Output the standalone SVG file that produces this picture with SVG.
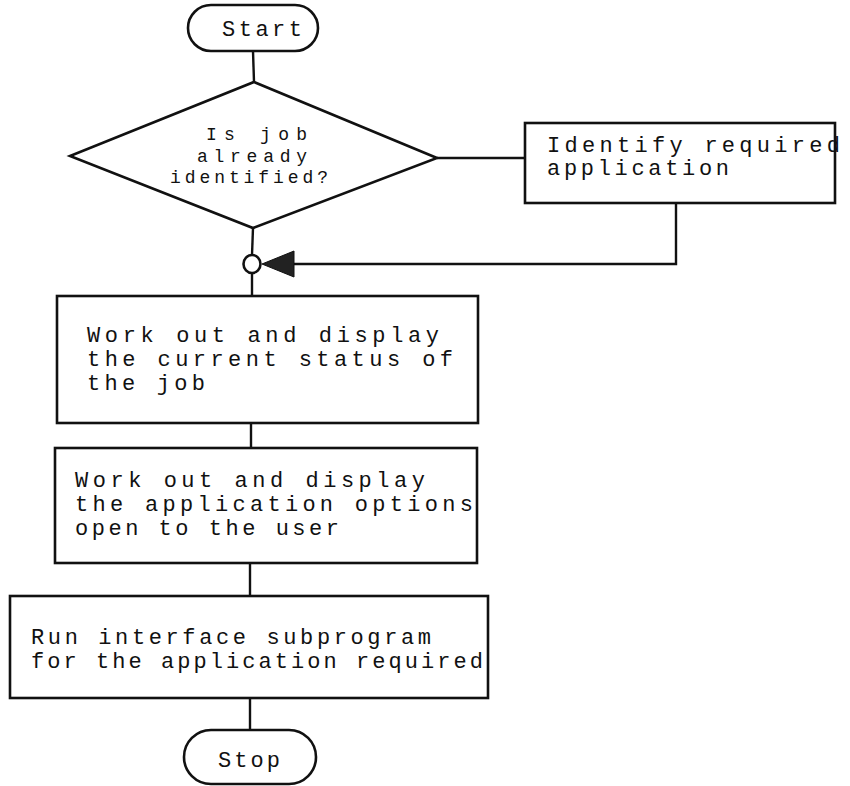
<svg xmlns="http://www.w3.org/2000/svg" width="850" height="786" viewBox="0 0 850 786">
  <style>
    .shape { fill: #ffffff; stroke: #111111; stroke-width: 2.6; }
    .conn { fill: none; stroke: #111111; stroke-width: 2.4; }
    .lbl { font-family: "Liberation Mono", "Courier New", monospace; font-size: 22px; fill: #111111; }
    .lbl-s { font-family: "Liberation Mono", "Courier New", monospace; font-size: 18px; fill: #111111; }
  </style>
  <rect width="850" height="786" fill="#ffffff"/>

  <!-- connectors -->
  <g id="connectors">
    <line class="conn" x1="253" y1="51" x2="254" y2="82"/>
    <line class="conn" x1="437" y1="158" x2="525" y2="158"/>
    <polyline class="conn" points="676,203 676,264 292,264"/>
    <polygon points="262,264 294,251 294,277" fill="#222222" stroke="#111111" stroke-width="1"/>
    <line class="conn" x1="253" y1="228" x2="252" y2="255"/>
    <ellipse cx="252" cy="264" rx="8.5" ry="9" fill="#ffffff" stroke="#111111" stroke-width="2.6"/>
    <line class="conn" x1="252" y1="273" x2="252" y2="296"/>
    <line class="conn" x1="251" y1="423" x2="251" y2="448"/>
    <line class="conn" x1="250" y1="563" x2="250" y2="596"/>
    <line class="conn" x1="250" y1="698" x2="250" y2="730"/>
  </g>

  <g id="start">
    <rect class="shape" x="188" y="5" width="130" height="46" rx="23" ry="23"/>
    <text class="lbl" x="222" y="36" textLength="80" lengthAdjust="spacing">Start</text>
  </g>

  <g id="decision">
    <polygon class="shape" points="254,82 437,158 253,228 70,156"/>
    <text class="lbl-s" x="206" y="140" textLength="101" lengthAdjust="spacing">Is job</text>
    <text class="lbl-s" x="197" y="162" textLength="110" lengthAdjust="spacing">already</text>
    <text class="lbl-s" x="170" y="183" textLength="158" lengthAdjust="spacing">identified?</text>
  </g>

  <g id="identify">
    <rect class="shape" x="525" y="123" width="310" height="80"/>
    <text class="lbl" x="547" y="152" textLength="293" lengthAdjust="spacing">Identify required</text>
    <text class="lbl" x="547" y="175" textLength="182" lengthAdjust="spacing">application</text>
  </g>

  <g id="status">
    <rect class="shape" x="57" y="296" width="421" height="127"/>
    <text class="lbl" x="87" y="342" textLength="352" lengthAdjust="spacing">Work out and display</text>
    <text class="lbl" x="87" y="366" textLength="366" lengthAdjust="spacing">the current status of</text>
    <text class="lbl" x="87" y="390" textLength="118" lengthAdjust="spacing">the job</text>
  </g>

  <g id="options">
    <rect class="shape" x="55" y="448" width="422" height="115"/>
    <text class="lbl" x="75" y="487" textLength="350" lengthAdjust="spacing">Work out and display</text>
    <text class="lbl" x="75" y="511" textLength="398" lengthAdjust="spacing">the application options</text>
    <text class="lbl" x="75" y="535" textLength="264" lengthAdjust="spacing">open to the user</text>
  </g>

  <g id="run">
    <rect class="shape" x="10" y="596" width="478" height="102"/>
    <text class="lbl" x="31" y="644" textLength="400" lengthAdjust="spacing">Run interface subprogram</text>
    <text class="lbl" x="31" y="668" textLength="452" lengthAdjust="spacing">for the application required</text>
  </g>

  <g id="stop">
    <rect class="shape" x="184" y="730" width="132" height="54" rx="27" ry="27"/>
    <text class="lbl" x="218" y="767" textLength="62" lengthAdjust="spacing">Stop</text>
  </g>
</svg>
